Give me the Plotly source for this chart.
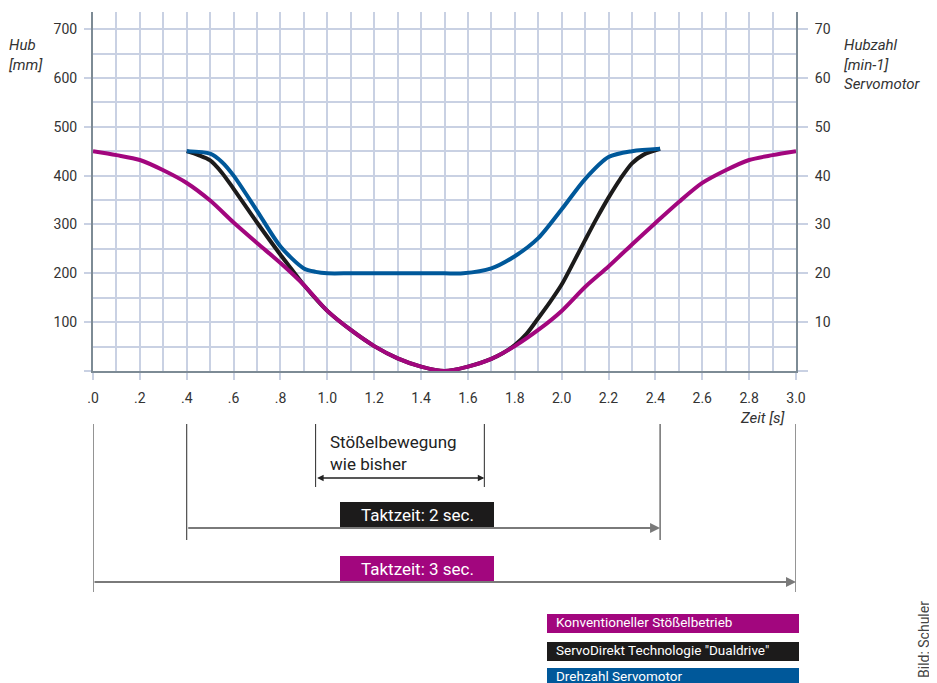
import plotly.graph_objects as go

# ---------------- data ----------------
t_conv = [0.0, 0.1, 0.2, 0.3, 0.4, 0.5, 0.6, 0.7, 0.8, 0.9, 1.0, 1.1, 1.2, 1.3, 1.4, 1.5,
          1.6, 1.7, 1.8, 1.9, 2.0, 2.1, 2.2, 2.3, 2.4, 2.5, 2.6, 2.7, 2.8, 2.9, 3.0]
hub_conv = [450, 442, 432, 411, 385, 349, 304, 262, 221, 176, 123, 84, 51, 26, 9, 0,
            9, 25, 51, 84, 123, 172, 214, 259, 303, 346, 385, 411, 432, 442, 450]

t_servo = [0.4, 0.45, 0.5, 0.55, 0.6, 0.7, 0.8, 0.85, 0.9, 1.0, 1.1, 1.2, 1.3, 1.4, 1.5,
           1.6, 1.7, 1.75, 1.8, 1.85, 1.9, 1.95, 2.0, 2.05, 2.1, 2.15, 2.2, 2.25, 2.3,
           2.35, 2.42]
hub_servo = [450, 442, 431, 406, 373, 304, 238, 207, 176, 123, 84, 51, 26, 9, 0,
             9, 25, 37, 53, 76, 108, 141, 177, 222, 268, 313, 355, 393, 425, 443, 455]

t_drehzahl = [0.4, 0.5, 0.55, 0.6, 0.7, 0.8, 0.9, 0.95, 1.0, 1.1, 1.2, 1.3, 1.4, 1.5,
              1.58, 1.7, 1.8, 1.9, 2.0, 2.1, 2.2, 2.3, 2.42]
drehzahl = [45.0, 44.5, 42.8, 40.0, 32.8, 25.5, 21.0, 20.3, 20.0, 20.0, 20.0, 20.0, 20.0,
            20.0, 20.0, 21.0, 23.5, 27.2, 33.1, 39.3, 43.8, 45.0, 45.5]

x_tickvals = [0.0, 0.2, 0.4, 0.6, 0.8, 1.0, 1.2, 1.4, 1.6, 1.8, 2.0, 2.2, 2.4, 2.6, 2.8, 3.0]
x_ticktext = [".0", ".2", ".4", ".6", ".8", "1.0", "1.2", "1.4", "1.6", "1.8", "2.0",
              "2.2", "2.4", "2.6", "2.8", "3.0"]
y_left_ticks = [0, 100, 200, 300, 400, 500, 600, 700]
y_left_text = ["", "100", "200", "300", "400", "500", "600", "700"]
y_right_ticks = [0, 10, 20, 30, 40, 50, 60, 70]
y_right_text = ["", "10", "20", "30", "40", "50", "60", "70"]

takt3 = [0.0, 3.0]      # Taktzeit: 3 sec.
takt2 = [0.4, 2.42]     # Taktzeit: 2 sec.
stoessel = [0.95, 1.67]  # Stößelbewegung wie bisher

legend_labels = ["Konventioneller Stößelbetrieb", "ServoDirekt Technologie \"Dualdrive\"",
                 "Drehzahl Servomotor"]

# ---------------- style ----------------
MAGENTA = "#a2067e"
BLACK = "#1c1b1b"
BLUE = "#00589a"
GRID = "#c9d1e3"
AXIS = "#7d8b95"
TXT = "#333333"
FONT = "Roboto"

OFF = 8  # browser body margin
W, H = 937 - OFF, 683 - OFF
L, T, PW, PH = 93 - OFF, 12 - OFF, 703, 359
R, B = W - L - PW, H - T - PH
Y0 = T + PH


def pxp(p):  # reference pixel x -> paper
    return (p - OFF - L) / PW


def pyp(p):  # reference pixel y -> paper
    return (Y0 - (p - OFF)) / PH


fig = go.Figure()
fig.add_trace(go.Scatter(x=t_servo, y=hub_servo, mode="lines", name=legend_labels[1],
                         line=dict(color=BLACK, width=4, shape="spline", smoothing=0.8)))
fig.add_trace(go.Scatter(x=t_conv, y=hub_conv, mode="lines", name=legend_labels[0],
                         line=dict(color=MAGENTA, width=4, shape="spline", smoothing=0.8)))
fig.add_trace(go.Scatter(x=t_drehzahl, y=drehzahl, mode="lines", name=legend_labels[2],
                         yaxis="y2",
                         line=dict(color=BLUE, width=4, shape="spline", smoothing=0.8)))

fig.update_layout(
    width=W, height=H,
    margin=dict(l=L, r=R, t=T, b=B, pad=0),
    paper_bgcolor="white", plot_bgcolor="white",
    showlegend=False,
    font=dict(family=FONT, size=14, color=TXT),
    xaxis=dict(range=[0, 3.0], tickmode="array", tickvals=x_tickvals, ticktext=x_ticktext,
               showgrid=True, gridcolor=GRID, gridwidth=1.5,
               minor=dict(tickmode="linear", tick0=0, dtick=0.1, showgrid=True,
                          gridcolor=GRID, gridwidth=1.5, ticks=""),
               showline=True, linecolor=AXIS, linewidth=2,
               ticks="outside", ticklen=7, tickcolor=GRID, tickwidth=1.5,
               ticklabelstandoff=6, zeroline=False,
               tickfont=dict(size=14, color=TXT)),
    yaxis=dict(range=[0, 735], tickmode="array", tickvals=y_left_ticks, ticktext=y_left_text,
               showgrid=True, gridcolor=GRID, gridwidth=1.5,
               minor=dict(tickmode="linear", tick0=0, dtick=50, showgrid=True,
                          gridcolor=GRID, gridwidth=1.5, ticks=""),
               showline=True, linecolor=AXIS, linewidth=2,
               ticks="outside", ticklen=7, tickcolor=GRID, tickwidth=1.5,
               ticklabelstandoff=4, zeroline=False,
               tickfont=dict(size=14, color=TXT)),
    yaxis2=dict(range=[0, 73.5], overlaying="y", side="right", tickmode="array",
                tickvals=y_right_ticks, ticktext=y_right_text, showgrid=False,
                showline=True, linecolor=AXIS, linewidth=2,
                ticks="outside", ticklen=10, tickcolor=GRID, tickwidth=1.5,
                ticklabelstandoff=4, zeroline=False,
                tickfont=dict(size=14, color=TXT)),
)

# axis titles
fig.add_annotation(text="<i>Hub<br>[mm]</i>", xref="paper", yref="paper",
                   x=pxp(7), y=pyp(55), xanchor="left", yanchor="middle", showarrow=False,
                   align="left", font=dict(size=15, color=TXT))
fig.add_annotation(text="<i>Hubzahl<br>[min-1]<br>Servomotor</i>", xref="paper", yref="paper",
                   x=pxp(842), y=pyp(64), xanchor="left", yanchor="middle", showarrow=False,
                   align="left", font=dict(size=15, color=TXT))
fig.add_annotation(text="<i>Zeit [s]</i>", xref="paper", yref="paper",
                   x=pxp(787), y=pyp(418), xanchor="right", yanchor="middle", showarrow=False,
                   font=dict(size=15, color=TXT))

shapes = []
# vertical marker lines
for pair, bottom in ((takt3, 592), (takt2, 540), (stoessel, 487)):
    for tv in pair:
        shapes.append(dict(type="line", xref="x", yref="paper", x0=tv, x1=tv,
                           y0=pyp(424), y1=pyp(bottom), line=dict(color="#2a2a2a", width=1)))

# arrows
fig.add_annotation(x=stoessel[1], y=pyp(478), xref="x", yref="paper", ax=stoessel[0], ay=0,
                   axref="x", ayref="pixel", text="", showarrow=True, arrowhead=2,
                   arrowside="end+start", arrowsize=1, arrowwidth=1.3, arrowcolor="#222")
fig.add_annotation(x=takt2[1], y=pyp(528), xref="x", yref="paper", ax=takt2[0], ay=0,
                   axref="x", ayref="pixel", text="", showarrow=True, arrowhead=2,
                   arrowsize=1, arrowwidth=2, arrowcolor="#7a7a7a")
fig.add_annotation(x=takt3[1], y=pyp(582), xref="x", yref="paper", ax=takt3[0], ay=0,
                   axref="x", ayref="pixel", text="", showarrow=True, arrowhead=2,
                   arrowsize=1, arrowwidth=2, arrowcolor="#7a7a7a")

fig.add_annotation(text="Stößelbewegung<br>wie bisher", xref="paper", yref="paper",
                   x=pxp(328), y=pyp(453), xanchor="left", yanchor="middle", showarrow=False,
                   align="left", font=dict(size=17, color="#222"))

# Taktzeit boxes
for label, color, top, bot in (("Taktzeit: 2 sec.", BLACK, 502, 527),
                               ("Taktzeit: 3 sec.", MAGENTA, 556, 581)):
    shapes.append(dict(type="rect", xref="paper", yref="paper", x0=pxp(340), x1=pxp(494),
                       y0=pyp(bot), y1=pyp(top), fillcolor=color, line=dict(width=0)))
    fig.add_annotation(text=label, xref="paper", yref="paper", x=pxp(417),
                       y=pyp((top + bot) / 2), xanchor="center", yanchor="middle",
                       showarrow=False, font=dict(size=17, color="white"))

# legend boxes
for label, color, top, bot in ((legend_labels[0], MAGENTA, 614, 633),
                               (legend_labels[1], BLACK, 642, 661),
                               (legend_labels[2], BLUE, 668, 687)):
    shapes.append(dict(type="rect", xref="paper", yref="paper", x0=pxp(547), x1=pxp(799),
                       y0=pyp(bot), y1=pyp(top), fillcolor=color, line=dict(width=0)))
    fig.add_annotation(text=label, xref="paper", yref="paper", x=pxp(554),
                       y=pyp((top + bot) / 2 - 1.5), xanchor="left", yanchor="middle",
                       showarrow=False, font=dict(size=13.5, color="white"))

fig.add_annotation(text="Bild: Schuler", xref="paper", yref="paper", x=pxp(924), y=pyp(640),
                   xanchor="center", yanchor="middle", textangle=-90, showarrow=False,
                   font=dict(size=14, color="#444"))

fig.update_layout(shapes=shapes)
fig.write_html("out.html")
